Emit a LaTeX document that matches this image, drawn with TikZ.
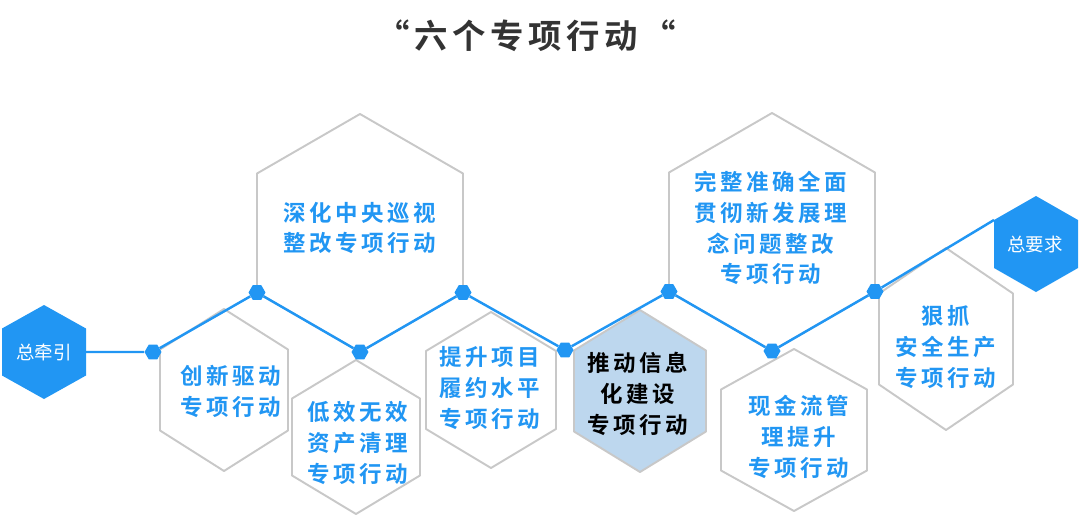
\documentclass[tikz,border=0pt]{standalone}
\usepackage{fontspec}
\usepackage{tikz}
\usetikzlibrary{shapes.geometric}
\newfontfamily\cjk{Noto Sans CJK SC}
\newfontfamily\cjkbold{Noto Sans CJK SC Bold}[LetterSpace=16]
\newfontfamily\cjktitle{Noto Sans CJK SC Bold}[LetterSpace=14]
\definecolor{hexblue}{RGB}{33,150,243}
\definecolor{hexgrey}{RGB}{200,200,200}
\definecolor{paleblue}{RGB}{189,215,238}
\definecolor{titlegrey}{RGB}{51,51,51}

\begin{document}
\begin{tikzpicture}[
    x=0.02cm,y=-0.02cm,
    hexa/.style n args={3}{insert path={coordinate (#1) +(#2,0) coordinate (#1-e)
        +(0,-#3) coordinate (#1-n)
        -- +(#2,-#3/2) coordinate (#1-ne) -- +(#2,#3/2) coordinate (#1-se)
        -- +(0,#3) coordinate (#1-s) -- +(-#2,#3/2) coordinate (#1-sw)
        -- +(-#2,-#3/2) coordinate (#1-nw) -- cycle}},
    hexcell/.style={draw=hexgrey,line width=1.1pt,fill=white,line join=round},
    keycell/.style={fill=hexblue},
    spine/.style={draw=hexblue,line width=1.4pt},
    joint/.style={regular polygon,regular polygon sides=6,fill=hexblue,inner sep=0pt,minimum size=0.34cm},
    cellText/.style={font=\cjkbold\fontsize{12.8}{17.6}\selectfont,text=hexblue,align=center,inner sep=0pt},
    keyText/.style={font=\cjk\fontsize{10.5}{12}\selectfont,text=white,inner sep=0pt},
    titleText/.style={font=\cjktitle\fontsize{19}{22}\selectfont,text=titlegrey,inner sep=0pt}
    ]
    \useasboundingbox (0,0) rectangle (1080,525);
    % hexagons
    \path[keycell] (44,352) [hexa={zq}{42}{47}];
    \path[keycell] (1036,244) [hexa={zy}{42}{48}];
    \path[hexcell] (360,233) [hexa={big1}{103}{119}];
    \path[hexcell] (772,232) [hexa={big2}{103}{119}];
    \path[hexcell] (224,390) [hexa={ha}{64}{81}];
    \path[hexcell] (356,437) [hexa={hb}{64}{77}];
    \path[hexcell] (491,390) [hexa={hc}{65}{78}];
    \path[hexcell,fill=paleblue] (640,391) [hexa={hd}{66}{81}];
    \path[hexcell] (794,430) [hexa={he}{73}{81}];
    \path[hexcell] (946,339) [hexa={hf}{67}{91}];
    % joints and the zigzag line
    \node[joint] (d1) at (153,352) {};
    \node[joint] (d2) at (big1-sw) {};
    \node[joint] (d3) at (big1-s) {};
    \node[joint] (d4) at (big1-se) {};
    \node[joint] (d5) at (565,350) {};
    \node[joint] (d6) at (big2-sw) {};
    \node[joint] (d7) at (big2-s) {};
    \node[joint] (d8) at (big2-se) {};
    \draw[spine] (zq-e) -- (d1) -- (d2) -- (d3) -- (d4) -- (d5) -- (d6) -- (d7) -- (d8) -- (zy-nw);
    % texts
    \node[titleText] (title) at (526,36) {“六个专项行动“};
    \node[keyText] (qian) at (44,352) {总牵引};
    \node[keyText] (yao) at (1035,245) {总要求};
    \node[cellText] (ta) at (231,391) {创新驱动\\专项行动};
    \node[cellText] (tbig1) at (360,228) {深化中央巡视\\整改专项行动};
    \node[cellText] (tb) at (358,443) {低效无效\\资产清理\\专项行动};
    \node[cellText] (tc) at (490,388) {提升项目\\履约水平\\专项行动};
    \node[cellText,text=black] (td) at (638,394) {推动信息\\化建设\\专项行动};
    \node[cellText] (tbig2) at (771,228) {完整准确全面\\贯彻新发展理\\念问题整改\\专项行动};
    \node[cellText] (te) at (799,437) {现金流管\\理提升\\专项行动};
    \node[cellText] (tf) at (946,347) {狠抓\\安全生产\\专项行动};
\end{tikzpicture}
\end{document}
